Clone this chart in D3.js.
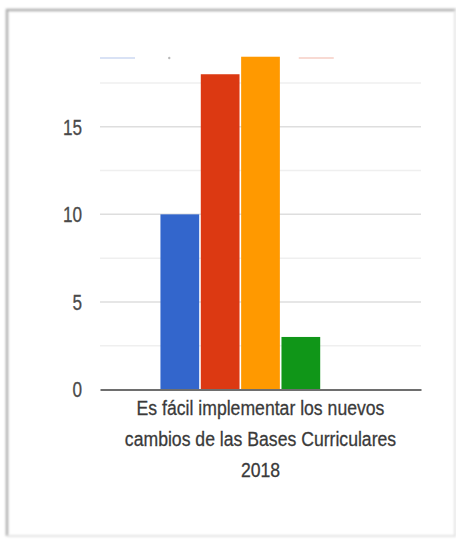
<!DOCTYPE html>
<html>
<head>
<meta charset="utf-8">
<script src="https://cdn.jsdelivr.net/npm/d3@7"></script>
<style>
  html, body { margin: 0; padding: 0; background: #fff; }
  svg { display: block; font-family: "Liberation Sans", Arial, sans-serif; }
</style>
</head>
<body>
<svg id="chart"></svg>
<script>
const categories = ["Es fácil implementar los nuevos cambios de las Bases Curriculares 2018"];
const categoryLines = ["Es fácil implementar los nuevos", "cambios de las Bases Curriculares", "2018"];
const seriesNames = ["Muy de acuerdo", "De acuerdo", "Indeciso", "En desacuerdo", "Muy en desacuerdo"];
const seriesValues = [10, 18, 19, 3, 0];
const seriesColors = ["#3366cc", "#dc3912", "#ff9900", "#109618", "#990099"];
const majorTicks = [0, 5, 10, 15];
const minorTicks = [2.5, 7.5, 12.5, 17.5];

const width = 456;
const height = 539;
const margin = { top: 83, right: 35, bottom: 149.5, left: 100 };
const plotW = width - margin.left - margin.right;
const plotH = height - margin.top - margin.bottom;

const svg = d3.select("#chart").attr("width", width).attr("height", height);

// outer frame: darker shadow on the left and top, faint on the other sides
const defs = svg.append("defs");
const shadow = defs.append("filter").attr("id", "shadow").attr("x", "-5%").attr("y", "-5%").attr("width", "110%").attr("height", "110%");
shadow.append("feGaussianBlur").attr("stdDeviation", 1.1);
const frame = svg.append("g").attr("filter", "url(#shadow)");
frame.append("path")
  .attr("d", "M7,536 V10 H456")
  .attr("fill", "none").attr("stroke", "#b0b0b0").attr("stroke-width", 2.5);
frame.append("path")
  .attr("d", "M7,536 H455 V10")
  .attr("fill", "none").attr("stroke", "#e4e4e4").attr("stroke-width", 2);

const chart = svg.append("g")
  .attr("transform", "translate(" + margin.left + "," + margin.top + ")");

const y = d3.scaleLinear().domain([0, 17.5]).range([plotH, 0]);

const x0 = d3.scaleBand().domain(categories).range([0, plotW]).padding(0.232);
const x1 = d3.scaleBand().domain(seriesNames).range([0, x0.bandwidth()]).paddingInner(0.04);

// gridlines
chart.selectAll(".minor")
  .data(minorTicks)
  .enter()
  .append("line")
  .attr("x1", 0).attr("x2", plotW)
  .attr("y1", function (d) { return y(d); })
  .attr("y2", function (d) { return y(d); })
  .attr("stroke", "#efefef").attr("stroke-width", 1.5);

chart.selectAll(".major")
  .data(majorTicks.filter(function (d) { return d > 0; }))
  .enter()
  .append("line")
  .attr("x1", 0).attr("x2", plotW)
  .attr("y1", function (d) { return y(d); })
  .attr("y2", function (d) { return y(d); })
  .attr("stroke", "#dedede").attr("stroke-width", 1.5);

// faded legend marks (legend text is cut off in the original)
const legendX = d3.scalePoint().domain(seriesNames).range([0, 265]);
const legend = chart.append("g").attr("transform", "translate(0,-25)");
legend.selectAll("line")
  .data([{ slot: seriesNames[0], color: seriesColors[0] }, { slot: seriesNames[3], color: seriesColors[1] }])
  .enter()
  .append("line")
  .attr("x1", function (d) { return legendX(d.slot); })
  .attr("x2", function (d) { return legendX(d.slot) + 35; })
  .attr("y1", 0).attr("y2", 0)
  .attr("stroke", function (d) { return d.color; })
  .attr("stroke-width", 2)
  .attr("opacity", 0.18);
legend.append("circle")
  .attr("cx", legendX(seriesNames[1]) + 3).attr("cy", 0).attr("r", 1.2)
  .attr("fill", "#8a8a8a").attr("opacity", 0.6);

// bars
const group = chart.selectAll(".group")
  .data(categories)
  .enter()
  .append("g")
  .attr("transform", function (d) { return "translate(" + x0(d) + ",0)"; });

group.selectAll("rect")
  .data(seriesNames.map(function (name, i) { return { name: name, value: seriesValues[i], color: seriesColors[i] }; }))
  .enter()
  .append("rect")
  .attr("x", function (d) { return x1(d.name); })
  .attr("y", function (d) { return y(d.value); })
  .attr("width", x1.bandwidth())
  .attr("height", function (d) { return plotH - y(d.value); })
  .attr("fill", function (d) { return d.color; });

// baseline axis
const xAxis = chart.append("g")
  .attr("transform", "translate(0," + plotH + ")")
  .call(d3.axisBottom(x0).tickSize(0).tickFormat(""));
xAxis.select(".domain").attr("stroke", "#6e6e6e").attr("stroke-width", 2);

// y tick labels
const yAxis = chart.append("g")
  .call(d3.axisLeft(y).tickValues(majorTicks).tickSize(0).tickPadding(0));
yAxis.select(".domain").remove();
yAxis.selectAll("text")
  .attr("x", 0)
  .attr("transform", function (d) { return "translate(-18," + y(d) + ") scale(0.78,1)"; })
  .attr("y", 0)
  .attr("dy", "0.36em")
  .style("font-family", "'Liberation Sans', Arial, sans-serif")
  .style("font-size", "22px")
  .style("fill", "#4a4a4a")
  .style("stroke", "#4a4a4a")
  .style("stroke-width", "0.3px");
yAxis.selectAll(".tick").attr("transform", null);

// category label
const label = chart.append("g")
  .attr("transform", "translate(" + (plotW / 2) + "," + plotH + ")");
label.selectAll("text")
  .data(categoryLines)
  .enter()
  .append("text")
  .attr("transform", function (d, i) { return "translate(0," + (25.5 + i * 31) + ") scale(0.84,1)"; })
  .attr("text-anchor", "middle")
  .style("font-size", "21px")
  .style("fill", "#3a3a3a")
  .style("stroke", "#3a3a3a")
  .style("stroke-width", "0.3px")
  .text(function (d) { return d; });
</script>
</body>
</html>
